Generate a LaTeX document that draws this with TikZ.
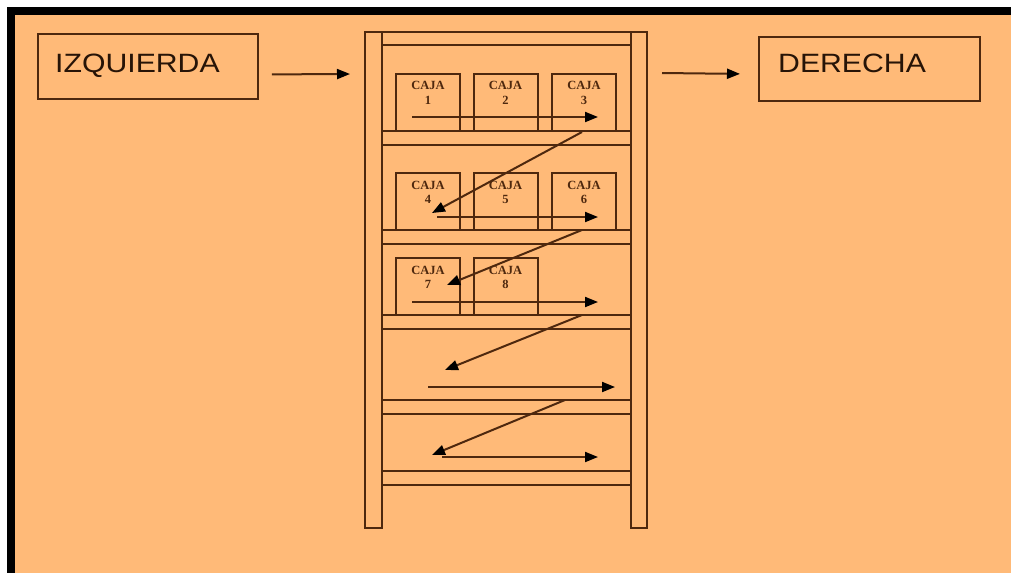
\documentclass[tikz,border=0pt]{standalone}
\usepackage{fontspec}
\newfontfamily\sidefont[FakeStretch=1.14]{Liberation Sans}
\newfontfamily\cajafont{Liberation Serif}
\usetikzlibrary{arrows.meta}
\definecolor{bgorange}{RGB}{255,186,120}
\definecolor{wood}{RGB}{78,40,14}

\begin{document}
\begin{tikzpicture}[x=1pt, y=-1pt,
  side/.style={draw=wood, line width=1.8pt, inner sep=0pt, anchor=north west,
               minimum width=220pt, minimum height=65pt},
  sidetxt/.style={font=\sidefont\fontsize{26.5}{28}\selectfont, text=wood!50!black,
                  anchor=base west, inner sep=0pt},
  caja/.style={draw=wood, line width=2pt, minimum width=64pt, minimum height=57pt,
               inner sep=0pt},
  cajatxt/.style={font=\cajafont\bfseries\fontsize{12.5}{14.5}\selectfont, align=center,
                  text=wood, anchor=north, inner sep=0pt, yshift=-9pt},
  board/.style={draw=wood, line width=2.2pt},
  flow/.style={draw=wood, line width=2pt,
               -{Triangle[length=13pt, width=10pt, color=black]}}]
  % frame
  \useasboundingbox (0,0) rectangle (1011,573);
  \fill[white] (0,0) rectangle (1011,573);
  \fill[black] (7,7) rectangle (1011,573);
  \fill[bgorange] (15,15) rectangle (1011,573);

  % side labels
  \node[side] (izq) at (37,33) {};
  \node[sidetxt] (izqtxt) at ([xshift=18pt, yshift=-39pt]izq.north west) {IZQUIERDA};
  \node[side, minimum width=221pt, minimum height=64pt] (der) at (758,36) {};
  \node[sidetxt] (dertxt) at ([xshift=20pt, yshift=-36pt]der.north west) {DERECHA};
  \coordinate (shelfin) at (350,74);
  \coordinate (shelfout) at (662,73);
  \draw[flow] ([xshift=13pt, yshift=-8pt]izq.east) -- (shelfin);
  \draw[flow] (shelfout) -- ([xshift=-18pt, yshift=-5pt]der.west);

  % shelf
  \draw[board] (365,32) rectangle (382,528);
  \draw[board] (631,32) rectangle (647,528);
  \draw[board] (382,32) -- (631,32) (382,45) -- (631,45)
    (382,131) -- (631,131) (382,145) -- (631,145)
    (382,230) -- (631,230) (382,244) -- (631,244)
    (382,315) -- (631,315) (382,329) -- (631,329)
    (382,400) -- (631,400) (382,414) -- (631,414)
    (382,471) -- (631,471) (382,485) -- (631,485);

  % boxes
  \node[caja] (c1) at (428,102) {};
  \node[caja] (c2) at (505.5,102) {};
  \node[caja] (c3) at (584,102) {};
  \node[caja] (c4) at (428,201.5) {};
  \node[caja] (c5) at (505.5,201.5) {};
  \node[caja] (c6) at (584,201.5) {};
  \node[caja] (c7) at (428,286.5) {};
  \node[caja] (c8) at (505.5,286.5) {};
  \node[cajatxt] at (c1.north) {CAJA\\1};
  \node[cajatxt] at (c2.north) {CAJA\\2};
  \node[cajatxt] at (c3.north) {CAJA\\3};
  \node[cajatxt] at (c4.north) {CAJA\\4};
  \node[cajatxt] at (c5.north) {CAJA\\5};
  \node[cajatxt] at (c6.north) {CAJA\\6};
  \node[cajatxt] at (c7.north) {CAJA\\7};
  \node[cajatxt] at (c8.north) {CAJA\\8};

  % zigzag order
  \coordinate (r1s) at (412,117);  \coordinate (r1e) at (598,117);
  \coordinate (d1s) at (582,132);  \coordinate (d1e) at (432,213);
  \coordinate (r2s) at (437,217);  \coordinate (r2e) at (598,217);
  \coordinate (d2s) at (582,230);  \coordinate (d2e) at (447,285);
  \coordinate (r3s) at (412,302);  \coordinate (r3e) at (598,302);
  \coordinate (d3s) at (582,315);  \coordinate (d3e) at (445,370);
  \coordinate (r4s) at (428,387);  \coordinate (r4e) at (615,387);
  \coordinate (d4s) at (565,400);  \coordinate (d4e) at (432,455);
  \coordinate (r5s) at (442,457);  \coordinate (r5e) at (598,457);
  \draw[flow] (r1s) -- (r1e);
  \draw[flow] (d1s) -- (d1e);
  \draw[flow] (r2s) -- (r2e);
  \draw[flow] (d2s) -- (d2e);
  \draw[flow] (r3s) -- (r3e);
  \draw[flow] (d3s) -- (d3e);
  \draw[flow] (r4s) -- (r4e);
  \draw[flow] (d4s) -- (d4e);
  \draw[flow] (r5s) -- (r5e);
\end{tikzpicture}
\end{document}
